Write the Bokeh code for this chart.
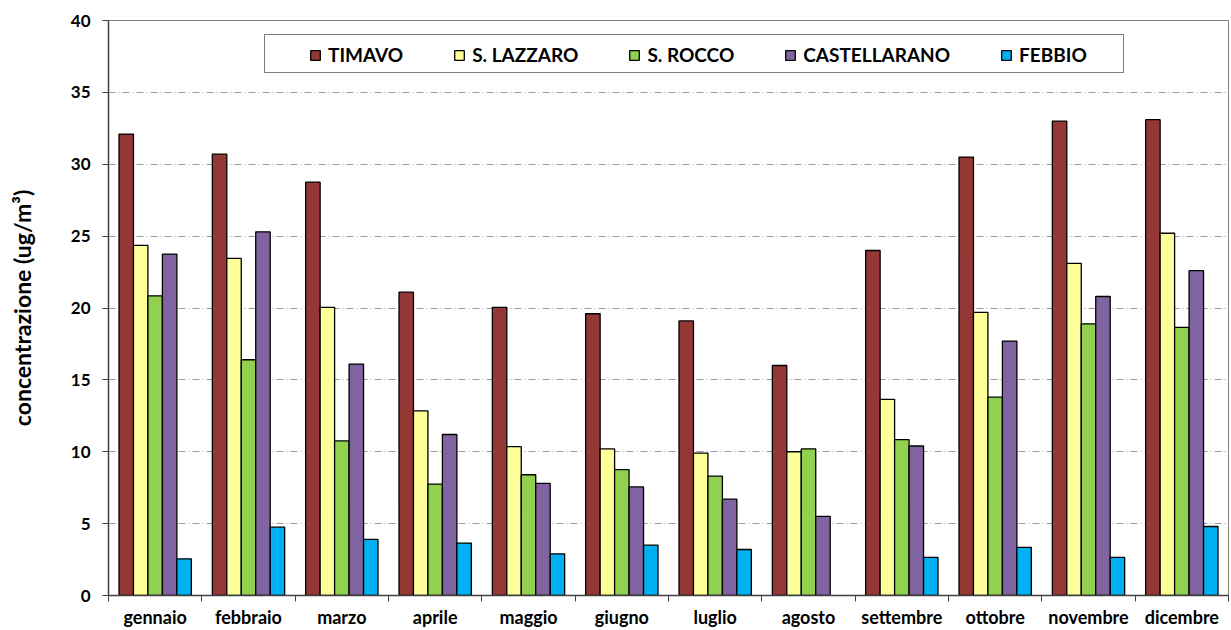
import numpy as np
from bokeh.plotting import figure
from bokeh.models import ColumnDataSource, FixedTicker, Range1d, Legend, LegendItem
from bokeh.transform import dodge
from bokeh.embed import file_html
from bokeh.resources import INLINE

months = ["gennaio", "febbraio", "marzo", "aprile", "maggio", "giugno",
          "luglio", "agosto", "settembre", "ottobre", "novembre", "dicembre"]
series = ["TIMAVO", "S. LAZZARO", "S. ROCCO", "CASTELLARANO", "FEBBIO"]
timavo = [32.1, 30.7, 28.75, 21.1, 20.05, 19.6, 19.1, 16.0, 24.0, 30.5, 33.0, 33.1]
lazzaro = [24.35, 23.45, 20.05, 12.85, 10.35, 10.2, 9.9, 10.0, 13.65, 19.7, 23.1, 25.2]
rocco = [20.85, 16.4, 10.75, 7.75, 8.4, 8.75, 8.3, 10.2, 10.85, 13.8, 18.9, 18.65]
castellarano = [23.75, 25.3, 16.1, 11.2, 7.8, 7.55, 6.7, 5.5, 10.4, 17.7, 20.8, 22.6]
febbio = [2.55, 4.75, 3.9, 3.65, 2.9, 3.5, 3.2, float("nan"), 2.65, 3.35, 2.65, 4.8]
colors = ["#953735", "#FFFF99", "#92D050", "#8064A2", "#00B0F0"]
y_ticks = [0, 5, 10, 15, 20, 25, 30, 35, 40]

FONT = "Lato"

x_centers = np.arange(len(months)) + 0.5
source = ColumnDataSource(dict(x=x_centers, s0=timavo, s1=lazzaro, s2=rocco,
                               s3=castellarano, s4=febbio))

p = figure(width=1229, height=630, output_backend="svg", toolbar_location=None,
           x_range=Range1d(0, len(months)), y_range=Range1d(0, 40),
           min_border_left=108, min_border_right=1, min_border_top=20,
           min_border_bottom=35)

bw = 0.155
offsets = [-2 * bw, -bw, 0, bw, 2 * bw]
renderers = []
for i, name in enumerate(series):
    r = p.vbar(x=dodge("x", offsets[i], range=p.x_range), top="s%d" % i, width=bw,
               source=source, fill_color=colors[i], line_color="black", line_width=1.3)
    renderers.append(r)

# x axis: labels at centers, ticks at boundaries
p.xaxis.ticker = FixedTicker(ticks=list(x_centers), minor_ticks=list(range(len(months) + 1)))
p.xaxis.major_label_overrides = {float(x): m for x, m in zip(x_centers, months)}
p.xaxis.major_tick_out = 0
p.xaxis.major_tick_in = 0
p.xaxis.minor_tick_out = 6
p.xaxis.minor_tick_in = 0
p.xaxis.minor_tick_line_color = "#404040"
p.xaxis.axis_line_color = "#404040"
p.xaxis.axis_line_width = 1.5
p.xaxis.major_label_text_font = FONT
p.xaxis.major_label_text_font_style = "bold"
p.xaxis.major_label_text_font_size = "18px"
p.xaxis.major_label_text_color = "black"
p.xaxis.major_label_standoff = 4

p.yaxis.ticker = FixedTicker(ticks=y_ticks)
p.yaxis.minor_tick_line_color = None
p.yaxis.major_tick_out = 6
p.yaxis.major_tick_in = 0
p.yaxis.major_tick_line_color = "#404040"
p.yaxis.axis_line_color = "#404040"
p.yaxis.axis_line_width = 1.5
p.yaxis.major_label_text_font = FONT
p.yaxis.major_label_text_font_style = "bold"
p.yaxis.major_label_text_font_size = "17px"
p.yaxis.major_label_text_color = "black"
p.yaxis.major_label_standoff = 12
p.yaxis.axis_label = "concentrazione (ug/m³)"
p.yaxis.axis_label_text_font = FONT
p.yaxis.axis_label_text_font_style = "bold"
p.yaxis.axis_label_text_font_size = "23px"
p.yaxis.axis_label_text_color = "black"
p.yaxis.axis_label_standoff = 32

p.xgrid.grid_line_color = None
p.ygrid.grid_line_color = "#9a9a9a"
p.ygrid.grid_line_dash = "7 3 1 3"
p.ygrid.grid_line_width = 1

p.outline_line_color = "#808080"
p.outline_line_width = 1
p.background_fill_color = "white"
p.border_fill_color = "white"

# frame of the legend (an empty, bordered legend box behind the items)
blank = p.vbar(x=[], top=[], width=0.1, fill_alpha=0, line_alpha=0)
frame_legend = Legend(items=[LegendItem(label="", renderers=[blank])],
                      orientation="horizontal", location=(156, 522))
frame_legend.padding = 0
frame_legend.glyph_width = 1
frame_legend.glyph_height = 1
frame_legend.label_standoff = 0
frame_legend.label_width = 857
frame_legend.label_height = 37
frame_legend.label_text_font_size = "8px"
frame_legend.border_line_color = "black"
frame_legend.border_line_width = 1
frame_legend.background_fill_color = "white"
frame_legend.background_fill_alpha = 1
p.add_layout(frame_legend, "center")

legend = Legend(items=[LegendItem(label=s, renderers=[r]) for s, r in zip(series, renderers)],
                orientation="horizontal", location=(201, 529))
legend.label_text_font = FONT
legend.label_text_font_style = "bold"
legend.label_text_font_size = "19px"
legend.label_text_color = "black"
legend.glyph_width = 12
legend.glyph_height = 12
legend.label_standoff = 7
legend.spacing = 50
legend.padding = 8
legend.border_line_color = None
legend.background_fill_alpha = 0
p.add_layout(legend, "center")

open("out.html", "w").write(file_html(p, INLINE))
